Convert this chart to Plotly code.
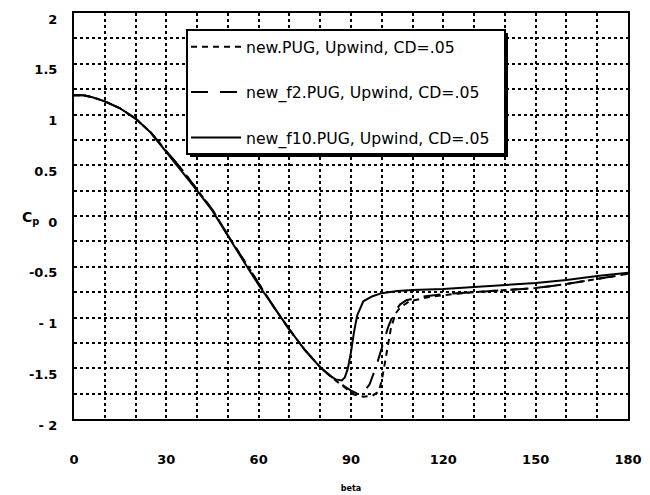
import plotly.graph_objects as go

# ---- data ----
beta_solid = [0, 3, 6, 10, 15, 20, 25, 30, 35, 40, 45, 50, 55, 60, 65, 70, 75, 80, 83, 85, 87, 88, 89, 90, 91, 92, 94, 97, 100, 105, 110, 120, 130, 140, 150, 160, 170, 180]
cp_f10 = [1.19, 1.19, 1.17, 1.13, 1.06, 0.96, 0.82, 0.63, 0.45, 0.25, 0.05, -0.20, -0.44, -0.68, -0.90, -1.12, -1.32, -1.49, -1.57, -1.61, -1.62, -1.59, -1.50, -1.34, -1.14, -0.98, -0.84, -0.79, -0.76, -0.74, -0.73, -0.72, -0.70, -0.68, -0.66, -0.63, -0.59, -0.56]

beta_f2 = [0, 3, 6, 10, 15, 20, 25, 30, 35, 40, 45, 50, 55, 60, 65, 70, 75, 80, 83, 85, 88, 90, 92, 94, 96, 98, 100, 102, 104, 106, 108, 112, 120, 130, 140, 150, 160, 170, 180]
cp_f2 = [1.19, 1.19, 1.17, 1.13, 1.06, 0.96, 0.82, 0.64, 0.46, 0.26, 0.06, -0.19, -0.43, -0.67, -0.90, -1.12, -1.32, -1.49, -1.57, -1.62, -1.68, -1.72, -1.75, -1.74, -1.66, -1.50, -1.30, -1.10, -0.95, -0.87, -0.83, -0.80, -0.77, -0.75, -0.73, -0.71, -0.67, -0.62, -0.57]

beta_new = [0, 3, 6, 10, 15, 20, 25, 30, 35, 40, 45, 50, 55, 60, 65, 70, 75, 80, 83, 85, 88, 91, 94, 97, 99, 100, 101, 102, 103, 104.5, 106, 109, 115, 120, 130, 140, 150, 160, 170, 180]
cp_new = [1.19, 1.19, 1.17, 1.13, 1.06, 0.96, 0.82, 0.64, 0.46, 0.26, 0.06, -0.19, -0.43, -0.67, -0.90, -1.12, -1.32, -1.49, -1.57, -1.62, -1.69, -1.76, -1.78, -1.77, -1.73, -1.62, -1.45, -1.27, -1.10, -0.96, -0.90, -0.84, -0.80, -0.78, -0.75, -0.73, -0.71, -0.67, -0.62, -0.57]

series_names = ["new.PUG, Upwind, CD=.05", "new_f2.PUG, Upwind, CD=.05", "new_f10.PUG, Upwind, CD=.05"]
x_tickvals = [0, 30, 60, 90, 120, 150, 180]
x_ticktext = ["0", "30", "60", "90", "120", "150", "180"]
y_tickvals = [2, 1.5, 1, 0.5, 0, -0.5, -1, -1.5, -2]
y_ticktext = ["2", "1.5", "1", "0.5", "0", "-0.5", "- 1", "-1.5", "- 2"]

fig = go.Figure()
fig.add_trace(go.Scatter(x=beta_new, y=cp_new, mode="lines", name=series_names[0],
                         legendgroup="a", line=dict(color="black", width=2, dash="6px,5px")))
fig.add_trace(go.Scatter(x=beta_f2, y=cp_f2, mode="lines", name=series_names[1],
                         legendgroup="b", line=dict(color="black", width=2, dash="17px,12px")))
fig.add_trace(go.Scatter(x=beta_solid, y=cp_f10, mode="lines", name=series_names[2],
                         legendgroup="c", line=dict(color="black", width=2)))

# page is 650x495; the html body has an 8px margin, so the figure starts at (8, 8)
OFF = 8
PAGE_W, PAGE_H = 650, 495
W, H = PAGE_W - OFF, PAGE_H - OFF
# target plot frame in page pixels: left 74, top 13, right 628, bottom 419
L, T = 74 - OFF, 13 - OFF
R, B = PAGE_W - 628, PAGE_H - 419
pw, ph = W - L - R, H - T - B

def px2paper_x(px):
    return (px - OFF - L) / pw

def px2paper_y(py):
    return (PAGE_H - B - py) / ph

# legend box with drop shadow (page pixels)
bx0, bx1, by0, by1 = 187, 505, 30, 154
fig.add_shape(type="rect", xref="paper", yref="paper", layer="above",
              x0=px2paper_x(bx0 + 3), x1=px2paper_x(bx1 + 3), y0=px2paper_y(by1 + 3), y1=px2paper_y(by0 + 3),
              fillcolor="black", line=dict(color="black", width=0))
fig.add_shape(type="rect", xref="paper", yref="paper", layer="above",
              x0=px2paper_x(bx0), x1=px2paper_x(bx1), y0=px2paper_y(by1), y1=px2paper_y(by0),
              fillcolor="white", line=dict(color="black", width=2))

tickfont = dict(family="DejaVu Sans", size=13, color="black", weight="bold")
grid = dict(showgrid=True, gridcolor="black", griddash="dot", gridwidth=1.5)

fig.update_layout(
    width=W, height=H,
    margin=dict(l=L, r=R, t=T, b=B, pad=0, autoexpand=False),
    paper_bgcolor="white", plot_bgcolor="white",
    showlegend=True,
    legend=dict(x=px2paper_x(186), y=px2paper_y(30), xanchor="left", yanchor="top",
                bgcolor="rgba(0,0,0,0)", borderwidth=0, tracegroupgap=22,
                traceorder="grouped", itemwidth=50,
                font=dict(family="DejaVu Sans", size=15.7, color="black")),
    xaxis=dict(range=[0, 180], tickmode="array", tickvals=x_tickvals, ticktext=x_ticktext,
               tickfont=tickfont, ticks="", ticklabelstandoff=27, automargin=False,
               minor=dict(tickvals=list(range(0, 181, 10)), **grid), **grid,
               zeroline=False, showline=True, linecolor="black", linewidth=2, mirror=True,
               title=dict(text="beta", font=dict(family="DejaVu Sans", size=8, color="black", weight="bold"), standoff=20)),
    yaxis=dict(range=[-2, 2], tickmode="array", tickvals=y_tickvals, ticktext=y_ticktext,
               tickfont=tickfont, ticks="", ticklabelstandoff=12, ticklabelshift=6, automargin=False,
               minor=dict(tickvals=[v / 4 for v in range(-8, 9)], **grid), **grid,
               zeroline=False, showline=True, linecolor="black", linewidth=2, mirror=True),
)

fig.add_annotation(text="C<sub>p</sub>", xref="paper", yref="paper", x=px2paper_x(31), y=px2paper_y(218),
                   xanchor="center", yanchor="middle",
                   showarrow=False, font=dict(family="DejaVu Sans", size=14, color="black", weight="bold"))

fig.write_html("out.html")
